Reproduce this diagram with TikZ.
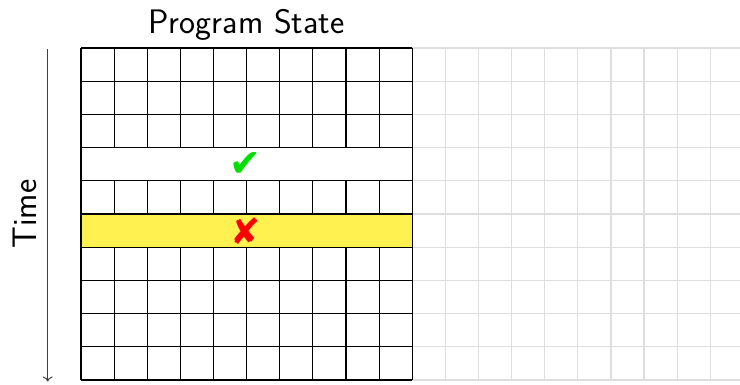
\documentclass[tikz,border=0pt]{standalone}
\usepackage{fontspec}
\usetikzlibrary{arrows.meta}
\newfontfamily\symfont{DejaVu Sans}
\definecolor{hlyellow}{RGB}{255,241,80}
\definecolor{okgreen}{RGB}{0,224,0}
\definecolor{badred}{RGB}{255,0,0}
\definecolor{gridgray}{RGB}{222,222,222}
\begin{document}
\begin{tikzpicture}[x=1pt,y=-1pt,
  cellline/.style={line width=1.1pt,black},
  faintline/.style={line width=1.2pt,gridgray},
  label/.style={inner sep=0pt,font=\fontsize{34}{40}\selectfont\sffamily},
  symb/.style={inner sep=0pt}]
\useasboundingbox (0,0) rectangle (740,384);
% faint grid continuing to the right
\foreach \i in {10,...,20}{
  \pgfmathsetmacro{\xx}{81+33.12*\i}
  \draw[faintline] (\xx,48) -- (\xx,380);
}
\foreach \j in {0,...,10}{
  \pgfmathsetmacro{\yy}{48+33.2*\j}
  \draw[faintline] (412,\yy) -- (740,\yy);
}
% highlighted row
\fill[hlyellow] (81,{48+33.2*5}) rectangle (412.2,{48+33.2*6});
% horizontal lines
\foreach \j in {0,...,10}{
  \pgfmathsetmacro{\yy}{48+33.2*\j}
  \draw[cellline] (81,\yy) -- (412.2,\yy);
}
% inner vertical lines, skipping rows 4 and 6
\foreach \i in {1,...,9}{
  \pgfmathsetmacro{\xx}{81+33.12*\i}
  \draw[cellline] (\xx,48) -- (\xx,{48+33.2*3});
  \draw[cellline] (\xx,{48+33.2*4}) -- (\xx,{48+33.2*5});
  \draw[cellline] (\xx,{48+33.2*6}) -- (\xx,380);
}
% outer vertical lines
\draw[cellline] (81,48) -- (81,380);
\draw[cellline,line width=1.4pt] (412.2,48) -- (412.2,380);
% labels
\node[label] (title) at (246.5,24.5) {Program State};
\node[label,rotate=90] (time) at (25,214) {Time};
\node[symb,text=okgreen,font=\symfont\fontsize{38}{42}\selectfont] (ok) at (245,164.5) {✔};
\node[symb,text=badred,font=\symfont\fontsize{36}{40}\selectfont] (bad) at (245.5,231.5) {✘};
% time arrow
\coordinate (tTop) at (47.7,49);
\coordinate (tBot) at (47.7,381.5);
\draw[line width=1pt,black!75,-{To[length=5pt,width=10pt]}] (tTop) -- (tBot);
\end{tikzpicture}
\end{document}
